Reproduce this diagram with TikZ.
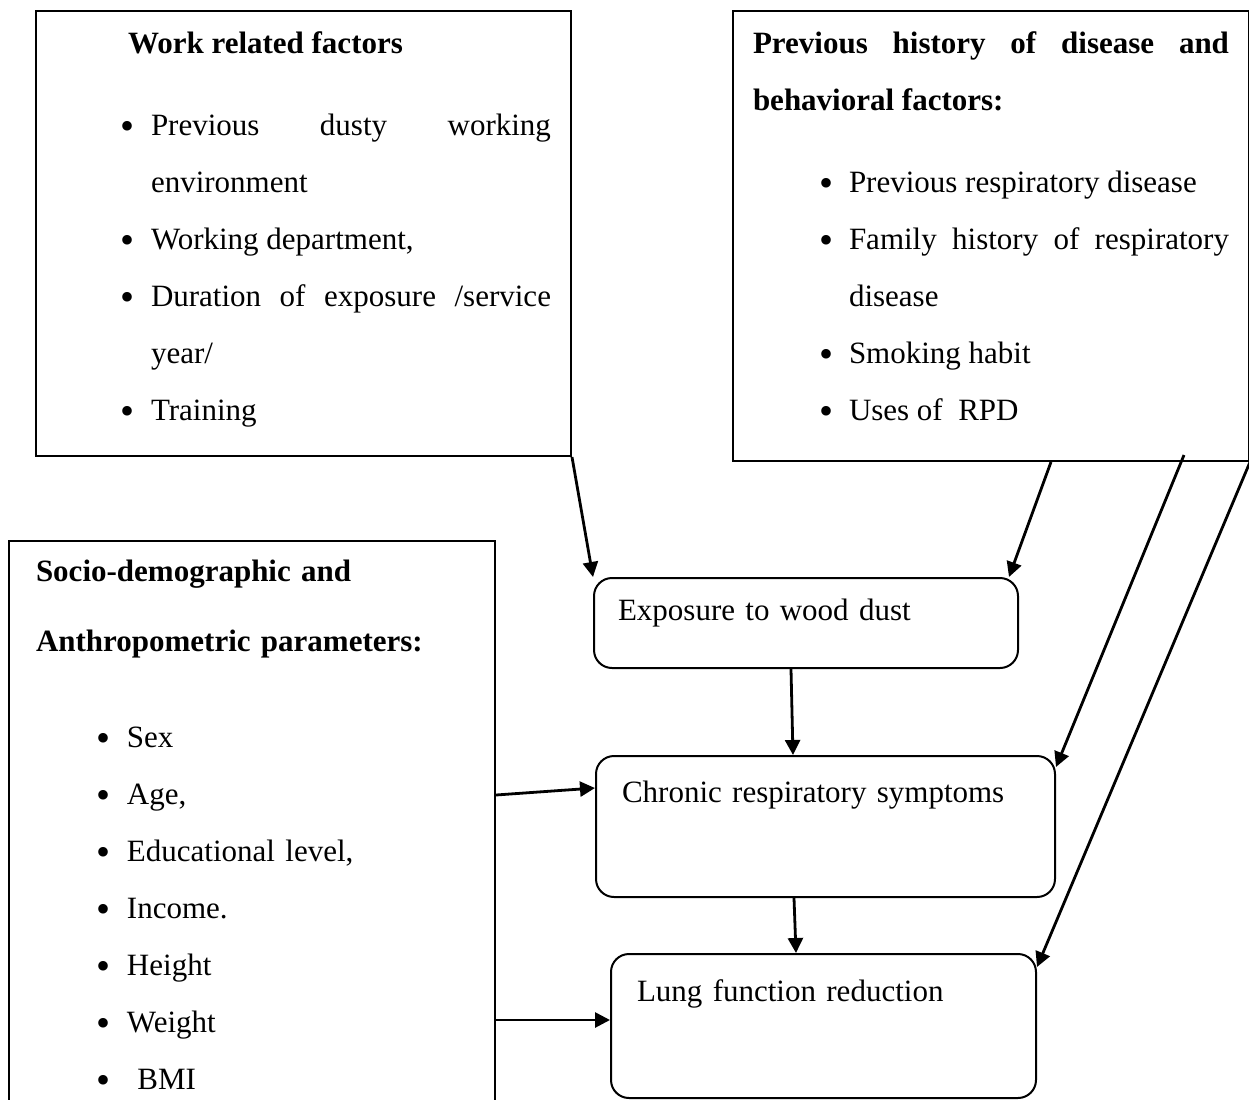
\documentclass[tikz,border=0pt]{standalone}
\usepackage{fontspec}
\setmainfont{Liberation Serif}
\usetikzlibrary{arrows.meta}
\tikzset{factorbox/.style={draw,line width=1pt,rectangle,inner ysep=0pt,align=justify,anchor=north west},
	 outbox/.style={draw,line width=1pt,rounded corners=9pt,inner ysep=0pt,align=left,anchor=north west},
	 arr/.style={line width=1.4pt,-{Triangle[length=7.5pt,width=7.5pt]}}
	 }
\newcommand{\nohyph}{\hyphenpenalty=10000 \exhyphenpenalty=10000 \tolerance=10000 \hbadness=10000 }
\newcommand{\bitem}{\par\noindent\llap{\makebox[0pt]{\raisebox{-2pt}{\fontsize{20}{20}\selectfont\textbullet}}\hspace{11.5pt}}}

\begin{document}
\begin{tikzpicture}[x=0.5pt,y=-0.5pt,font=\fontsize{15.5}{28.5}\selectfont\nohyph] % wood dust framework
	\path[use as bounding box,clip] (0,0) rectangle (1249,1099);
	\node[factorbox,inner xsep=10pt,text width=247.5pt,text height=21pt,text depth=201.5pt] (work) at (35,10)
	  {\nohyph\hspace*{36pt}\textbf{Work related factors}\par\vspace{12.5pt}\leftskip=47.5pt
	   \bitem Previous dusty working\linebreak environment
	   \bitem Working department,
	   \bitem Duration of exposure /service\linebreak year/
	   \bitem Training\par};
	\node[factorbox,inner xsep=10pt,text width=238pt,text height=21pt,text depth=204pt] (hist) at (732,10)
	  {\nohyph\textbf{Previous history of disease and\linebreak behavioral factors:}\par\vspace{12.5pt}\leftskip=48pt
	   \bitem Previous respiratory disease
	   \bitem Family history of respiratory\linebreak disease
	   \bitem Smoking habit
	   \bitem Uses of~~RPD\par};
	\node[factorbox,align=left,inner xsep=13.5pt,text width=216pt,text height=20pt,text depth=270pt] (socio) at (8,540)
	  {\nohyph\textbf{Socio-demographic and}\par\vspace{6.5pt}\textbf{Anthropometric parameters:}\par\vspace{19.5pt}\leftskip=45.5pt
	   \bitem Sex
	   \bitem Age,
	   \bitem Educational level,
	   \bitem Income.
	   \bitem Height
	   \bitem Weight
	   \bitem \ BMI\par};
	\node[outbox,inner xsep=12pt,text width=188pt,text height=21pt,text depth=24pt] (expo) at (593,577) {Exposure to wood dust};
	\node[outbox,inner xsep=13pt,text width=203.5pt,text height=23pt,text depth=47.5pt] (chron) at (595,755) {Chronic respiratory symptoms};
	\node[outbox,inner xsep=13pt,text width=186.5pt,text height=23.5pt,text depth=48.5pt] (lung) at (610,953) {Lung function reduction};
	\draw[arr] (work.south east) to (expo.north west);
	\draw[arr] ([xshift=30pt]hist.south) to ([xshift=-5pt]expo.north east);
	\draw[arr] ([xshift=96.5pt,yshift=3.5pt]hist.south) to ([yshift=-6pt]chron.north east);
	\draw[arr] (hist.south east) to ([yshift=-7pt]lung.north east);
	\draw[arr] ([xshift=-7.5pt]expo.south) to ([xshift=-16.25pt]chron.north);
	\draw[arr] ([xshift=-15.75pt]chron.south) to ([xshift=-13.75pt]lung.north);
	\draw[arr] ([yshift=-127.5pt]socio.north east) to ([yshift=-16.5pt]chron.north west);
	\draw[arr] ([yshift=-240pt]socio.north east) to ([yshift=-33.5pt]lung.north west);
\end{tikzpicture}
\end{document}
